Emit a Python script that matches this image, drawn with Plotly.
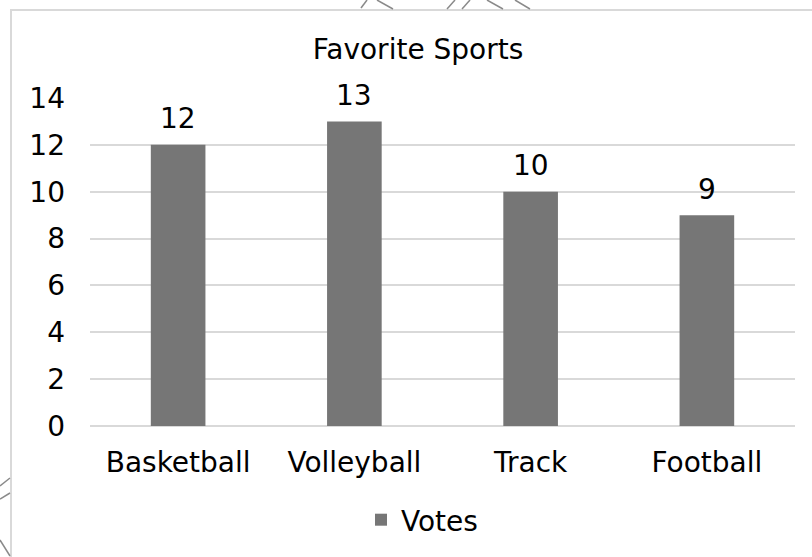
import plotly.graph_objects as go

categories = ["Basketball", "Volleyball", "Track", "Football"]
votes = [12, 13, 10, 9]
series_name = "Votes"
chart_title = "Favorite Sports"
y_ticks = [0, 2, 4, 6, 8, 10, 12, 14]

W, H = 812, 557
L, R, T, B = 90, 17, 98, 131
PW, PH = W - L - R, H - T - B


def px(x):
    return (x - L) / PW


def py(y):
    return (H - B - y) / PH


FONT = "DejaVu Sans"
GRID = "#d9d9d9"
BAR = "#767676"
FS = 28

fig = go.Figure(
    go.Bar(
        x=categories,
        y=votes,
        name=series_name,
        marker=dict(color=BAR, line=dict(width=0)),
        showlegend=True,
    )
)

annotations = [
    dict(x=c, y=v, xref="x", yref="y", text=str(v), showarrow=False,
         yanchor="middle", yshift=26,
         font=dict(family=FONT, size=FS, color="#000000"))
    for c, v in zip(categories, votes)
]

shapes = []
# chart frame
shapes.append(dict(type="rect", xref="paper", yref="paper",
                   x0=px(11), x1=px(820), y0=py(10), y1=py(570),
                   line=dict(color=GRID, width=2), fillcolor="rgba(0,0,0,0)", layer="below"))
# decorative strokes outside the frame
deco = [
    ((361, 8), (367, 0)), ((377, 0), (393, 9)),
    ((447, 9), (455, 0)), ((462, 9), (470, 0)),
    ((487, 0), (503, 9)), ((515, 0), (530, 9)),
    ((0, 486), (10, 478)), ((0, 499), (10, 493)),
    ((0, 540), (10, 556)),
]
for (xa, ya), (xb, yb) in deco:
    shapes.append(dict(type="line", xref="paper", yref="paper",
                       x0=px(xa), y0=py(ya), x1=px(xb), y1=py(yb),
                       line=dict(color="#8a8a8a", width=1.5)))

fig.update_layout(
    width=W, height=H,
    margin=dict(l=L, r=R, t=T, b=B, pad=0),
    paper_bgcolor="white", plot_bgcolor="white",
    font=dict(family=FONT, size=FS, color="#000000"),
    title=dict(text=chart_title, x=418 / W, xanchor="center",
               y=1 - 49 / H, yanchor="middle",
               font=dict(family=FONT, size=FS, color="#000000")),
    bargap=0.69,
    showlegend=True,
    legend=dict(orientation="h", x=px(361), xanchor="left",
                y=py(520), yanchor="middle",
                font=dict(family=FONT, size=FS, color="#000000"),
                itemwidth=30, bgcolor="rgba(0,0,0,0)"),
    shapes=shapes,
    annotations=annotations,
)
fig.update_xaxes(showgrid=False, showline=False, ticks="", ticklabelstandoff=17,
                 tickfont=dict(family=FONT, size=FS, color="#000000"))
fig.update_yaxes(range=[0, 14], tickvals=y_ticks, showgrid=True, gridcolor=GRID,
                 gridwidth=1.5, zeroline=True, zerolinecolor=GRID, zerolinewidth=1.5,
                 showline=False, ticks="", ticklabelstandoff=24,
                 tickfont=dict(family=FONT, size=FS, color="#000000"))

fig.write_html("out.html")
